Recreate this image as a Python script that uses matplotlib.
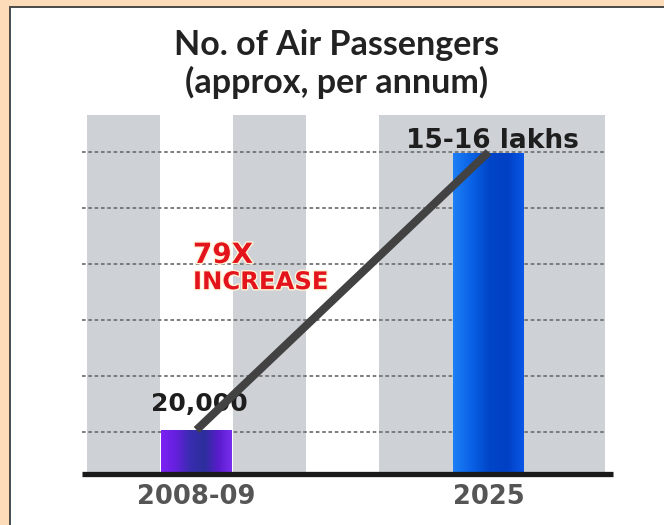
import matplotlib.pyplot as plt
import matplotlib.patheffects as pe
from matplotlib.colors import LinearSegmentedColormap
from matplotlib.patches import Rectangle
import numpy as np

# passenger numbers (2025 figure taken as ~15.8 lakh, i.e. 79x of 20,000)
periods = ['2008-09', '2025']
passengers = [20000, 1580000]
value_labels = ['20,000', '15-16 lakhs']
growth_text = ['79X', 'INCREASE']

bar_pos = [1, 5]

fig = plt.figure(figsize=(6.64, 5.25), dpi=100)
fig.patch.set_facecolor('#fddcba')

# white card with a dark edge
card = Rectangle((10 / 664, -0.1), 1.2, 1 - 7 / 525 + 0.1, transform=fig.transFigure,
                 facecolor='white', edgecolor='#4a4a4a', linewidth=1.4, zorder=-5)
fig.patches.append(card)

fig.text(337 / 664, 1 - 55 / 525, 'No. of Air Passengers', ha='center', va='baseline',
         fontsize=24.5, fontweight='bold', family='Lato', color='#222222')
fig.text(337 / 664, 1 - 93 / 525, '(approx, per annum)', ha='center', va='baseline',
         fontsize=24.5, fontweight='bold', family='Lato', color='#222222')

ax = fig.add_axes([82 / 664, 1 - 474 / 525, (613 - 82) / 664, (474 - 115) / 525])
ax.set_facecolor('none')
ax.set_yscale('log')
ax.set_xlim(-0.568, 6.705)
ax.set_ylim(1e4, 10 ** 6.452)

# alternating grey columns
for a, b in [(-0.5, 0.5), (1.5, 2.5), (3.5, 6.6)]:
    ax.axvspan(a, b, color='#ced1d5', lw=0, zorder=0)

# dashed guide lines
for f in [0.897, 0.741, 0.585, 0.429, 0.273, 0.117]:
    ax.plot([0, 0.985], [f, f], transform=ax.transAxes, color='#737373', lw=1.3,
            ls=(0, (2, 1.5)), zorder=1)

bars = ax.bar(bar_pos, passengers, width=0.98, bottom=1, color='none', zorder=2)

purple_cmap = LinearSegmentedColormap.from_list(
    'purp', ['#7c22f4', '#6420dc', '#3a2cb0', '#2c2f9c', '#5a1ccc', '#7b2ff0'])
blue_cmap = LinearSegmentedColormap.from_list(
    'blu', ['#1d7ef5', '#0a62e6', '#0046c8', '#0040c4', '#0a58e8'])
grad = np.linspace(0, 1, 256).reshape(1, -1)
for bar, cmap in zip(bars, [purple_cmap, blue_cmap]):
    x0 = bar.get_x()
    im = ax.imshow(grad, cmap=cmap, aspect='auto', transform=ax.get_xaxis_transform(),
                   extent=(x0, x0 + bar.get_width(), 0, 1), zorder=2)
    im.set_clip_path(bar)

# growth line joining the bar tops
ax.plot(bar_pos, passengers, color='#424242', lw=5.8, solid_capstyle='butt', zorder=4)

ax.annotate(value_labels[0], (bar_pos[0], passengers[0]), xytext=(2, 10),
            textcoords='offset points', ha='center', va='bottom', fontsize=18,
            fontweight='bold', color='#1e1e1e', zorder=3)
ax.annotate(value_labels[1], (bar_pos[1], passengers[1]), xytext=(3, 3),
            textcoords='offset points', ha='center', va='baseline', fontsize=19,
            fontweight='bold', color='#1e1e1e', zorder=5)

halo = [pe.withStroke(linewidth=2, foreground='#fff4d8')]
ax.text(0.952, 0.588, growth_text[0], transform=ax.get_xaxis_transform(),
        ha='left', va='baseline', fontsize=20, fontweight='bold', color='#e3141c',
        path_effects=halo, zorder=5)
ax.text(0.952, 0.515, growth_text[1], transform=ax.get_xaxis_transform(),
        ha='left', va='baseline', fontsize=17.5, fontweight='bold', color='#e3141c',
        path_effects=halo, zorder=5)

# thick base line
ax.plot([0, 1], [0, 0], transform=ax.transAxes, color='#1a1a1a', lw=3.8,
        solid_capstyle='butt', clip_on=False, zorder=6)

ax.set_xticks(bar_pos)
ax.set_xticklabels(periods, fontsize=18.5, fontweight='bold', color='#555555')
ax.tick_params(axis='x', length=0, pad=7)
ax.set_yticks([])
ax.minorticks_off()
ax.tick_params(axis='y', which='both', left=False, labelleft=False)
for s in ax.spines.values():
    s.set_visible(False)

fig.savefig('out.png', dpi=100, facecolor=fig.get_facecolor())
